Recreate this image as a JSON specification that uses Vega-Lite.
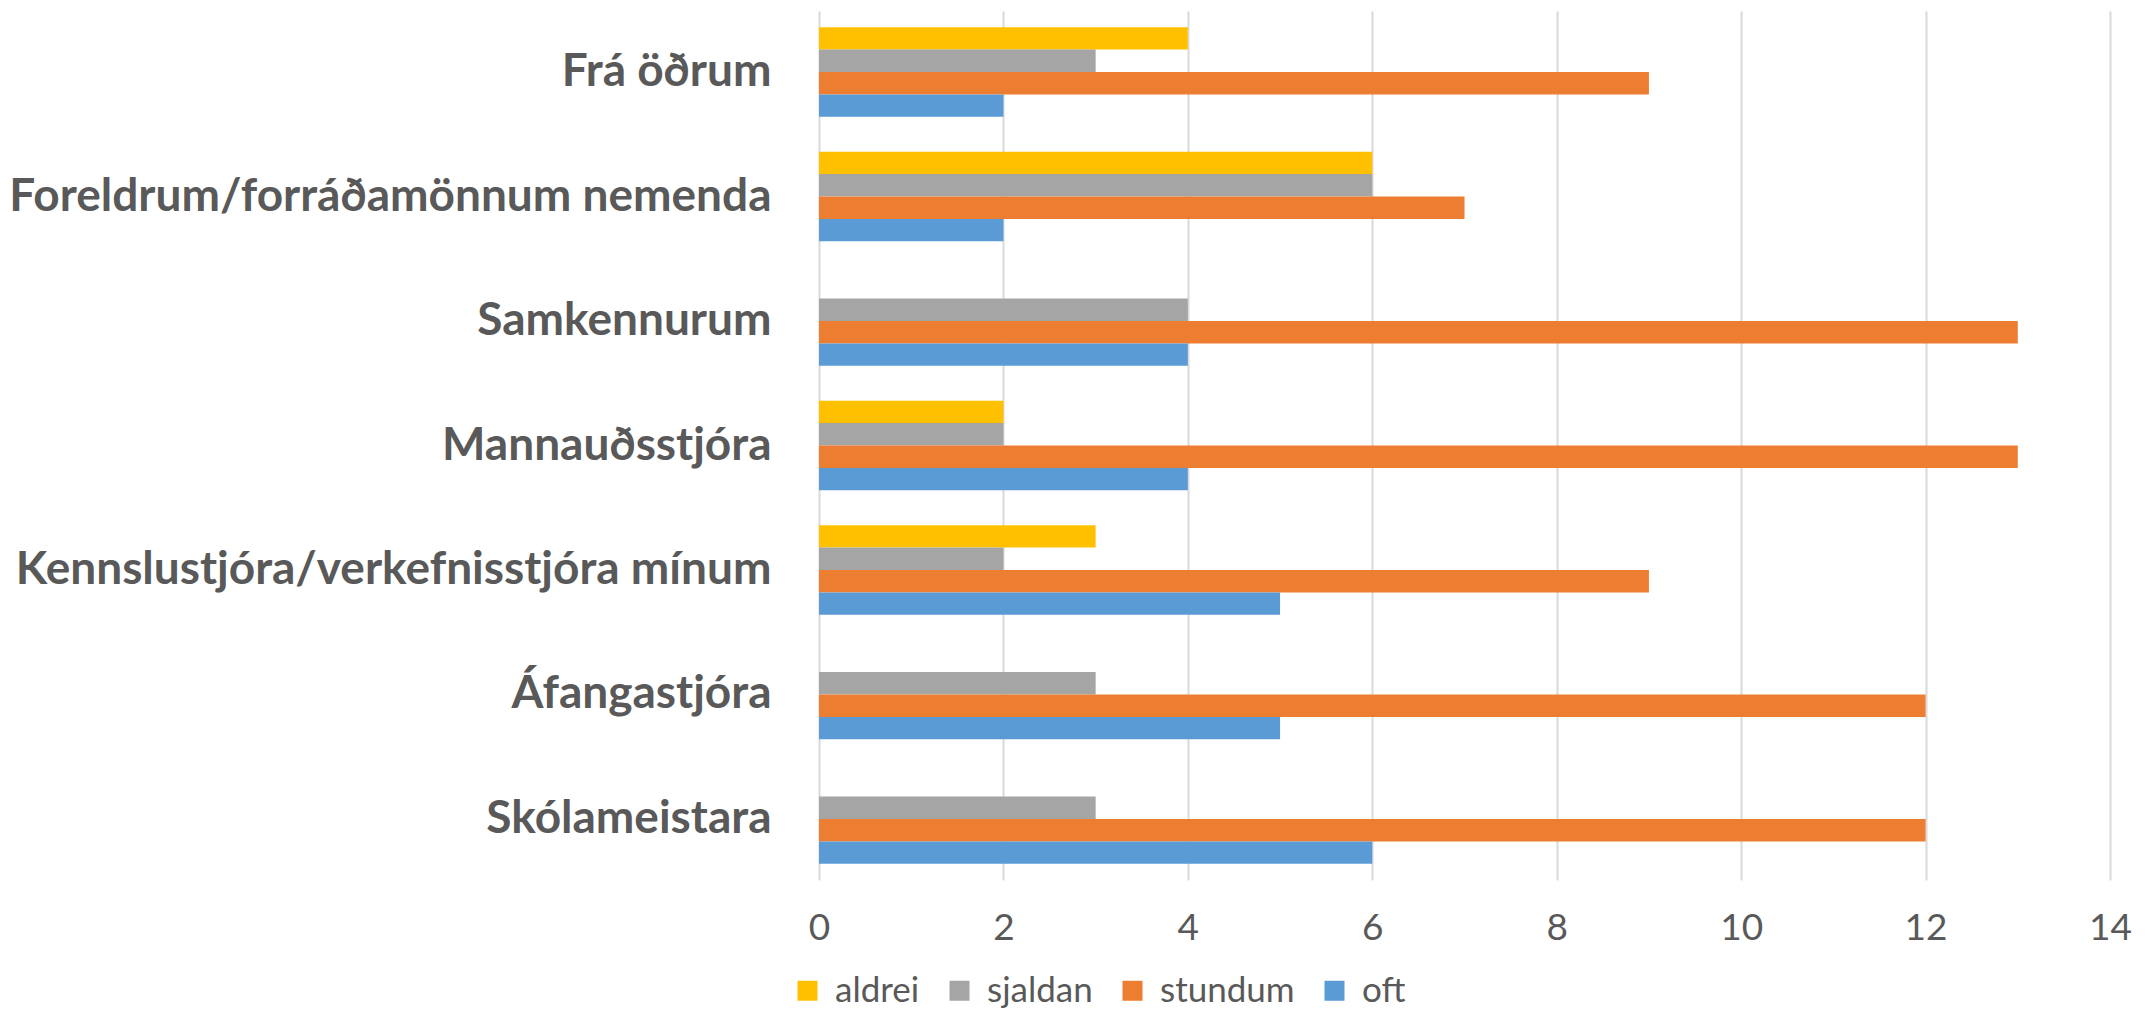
{
  "$schema": "https://vega.github.io/schema/vega-lite/v6.json",
  "width": 1291,
  "height": 869,
  "autosize": {"type": "none"},
  "padding": {"left": 819, "top": 11, "right": 45, "bottom": 135},
  "background": "white",
  "data": {
    "values": [
      {"cat": "Frá öðrum", "svar": "aldrei", "n": 4},
      {"cat": "Frá öðrum", "svar": "sjaldan", "n": 3},
      {"cat": "Frá öðrum", "svar": "stundum", "n": 9},
      {"cat": "Frá öðrum", "svar": "oft", "n": 2},
      {"cat": "Foreldrum/forráðamönnum nemenda", "svar": "aldrei", "n": 6},
      {"cat": "Foreldrum/forráðamönnum nemenda", "svar": "sjaldan", "n": 6},
      {"cat": "Foreldrum/forráðamönnum nemenda", "svar": "stundum", "n": 7},
      {"cat": "Foreldrum/forráðamönnum nemenda", "svar": "oft", "n": 2},
      {"cat": "Samkennurum", "svar": "aldrei", "n": 0},
      {"cat": "Samkennurum", "svar": "sjaldan", "n": 4},
      {"cat": "Samkennurum", "svar": "stundum", "n": 13},
      {"cat": "Samkennurum", "svar": "oft", "n": 4},
      {"cat": "Mannauðsstjóra", "svar": "aldrei", "n": 2},
      {"cat": "Mannauðsstjóra", "svar": "sjaldan", "n": 2},
      {"cat": "Mannauðsstjóra", "svar": "stundum", "n": 13},
      {"cat": "Mannauðsstjóra", "svar": "oft", "n": 4},
      {"cat": "Kennslustjóra/verkefnisstjóra mínum", "svar": "aldrei", "n": 3},
      {"cat": "Kennslustjóra/verkefnisstjóra mínum", "svar": "sjaldan", "n": 2},
      {"cat": "Kennslustjóra/verkefnisstjóra mínum", "svar": "stundum", "n": 9},
      {"cat": "Kennslustjóra/verkefnisstjóra mínum", "svar": "oft", "n": 5},
      {"cat": "Áfangastjóra", "svar": "aldrei", "n": 0},
      {"cat": "Áfangastjóra", "svar": "sjaldan", "n": 3},
      {"cat": "Áfangastjóra", "svar": "stundum", "n": 12},
      {"cat": "Áfangastjóra", "svar": "oft", "n": 5},
      {"cat": "Skólameistara", "svar": "aldrei", "n": 0},
      {"cat": "Skólameistara", "svar": "sjaldan", "n": 3},
      {"cat": "Skólameistara", "svar": "stundum", "n": 12},
      {"cat": "Skólameistara", "svar": "oft", "n": 6}
    ]
  },
  "mark": {"type": "bar"},
  "encoding": {
    "y": {
      "field": "cat",
      "type": "nominal",
      "sort": ["Frá öðrum", "Foreldrum/forráðamönnum nemenda", "Samkennurum", "Mannauðsstjóra", "Kennslustjóra/verkefnisstjóra mínum", "Áfangastjóra", "Skólameistara"],
      "scale": {"paddingInner": 0.28, "paddingOuter": 0.13},
      "axis": {
        "title": null,
        "labelFont": "Lato",
        "labelFontWeight": "bold",
        "labelFontSize": 46,
        "labelColor": "#595959",
        "labelPadding": 48,
        "ticks": false,
        "domain": false,
        "labelLimit": 1000
      }
    },
    "yOffset": {
      "field": "svar",
      "type": "nominal",
      "sort": ["aldrei", "sjaldan", "stundum", "oft"]
    },
    "x": {
      "field": "n",
      "type": "quantitative",
      "scale": {"domain": [0, 14]},
      "axis": {
        "title": null,
        "values": [0, 2, 4, 6, 8, 10, 12, 14],
        "grid": true,
        "gridColor": "#D9D9D9",
        "gridWidth": 2,
        "domain": false,
        "ticks": false,
        "labelFlush": false,
        "labelFont": "Lato",
        "labelFontSize": 37,
        "labelColor": "#595959",
        "labelPadding": 30
      }
    },
    "color": {
      "field": "svar",
      "type": "nominal",
      "scale": {
        "domain": ["aldrei", "sjaldan", "stundum", "oft"],
        "range": ["#FFC000", "#A5A5A5", "#ED7D31", "#5B9BD5"]
      },
      "legend": {
        "title": null,
        "orient": "none",
        "direction": "horizontal",
        "legendX": -29,
        "legendY": 962,
        "symbolType": "square",
        "symbolSize": 400,
        "symbolStrokeWidth": 0,
        "labelFont": "Lato",
        "labelFontSize": 35,
        "labelColor": "#595959",
        "labelOffset": 10,
        "columnPadding": 22
      }
    }
  },
  "config": {"view": {"stroke": null}}
}
